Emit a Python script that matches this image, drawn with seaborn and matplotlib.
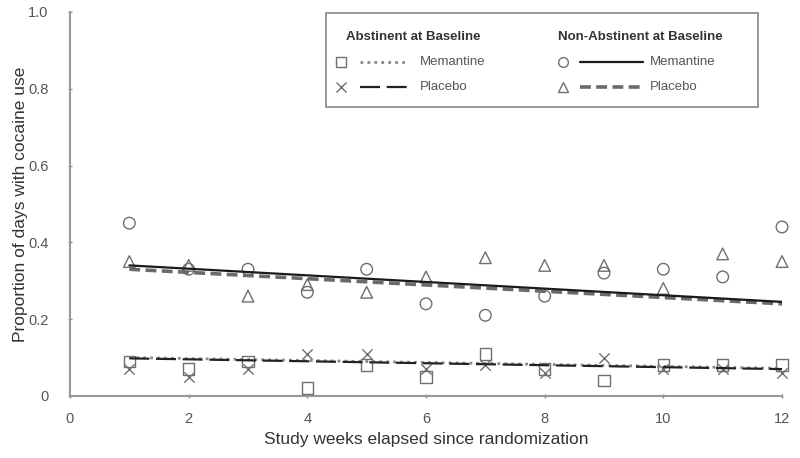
import numpy as np
import pandas as pd
import matplotlib
matplotlib.use("Agg")
import matplotlib.pyplot as plt
from matplotlib.lines import Line2D
from matplotlib.patches import Rectangle
import seaborn as sns

weeks = list(range(1, 13))

# observed proportions per week
abst_mem = [0.09, 0.07, 0.09, 0.02, 0.08, 0.05, 0.11, 0.07, 0.04, 0.08, 0.08, 0.08]
abst_pla = [0.07, 0.05, 0.07, 0.11, 0.11, 0.07, 0.08, 0.06, 0.10, 0.07, 0.07, 0.06]
nonabst_mem = [0.45, 0.33, 0.33, 0.27, 0.33, 0.24, 0.21, 0.26, 0.32, 0.33, 0.31, 0.44]
nonabst_pla = [0.35, 0.34, 0.26, 0.29, 0.27, 0.31, 0.36, 0.34, 0.34, 0.28, 0.37, 0.35]

# fitted trend lines (value at week 1 and week 12)
fit_weeks = [1, 12]
fit_abst_mem = [0.100, 0.072]
fit_abst_pla = [0.098, 0.070]
fit_nonabst_mem = [0.340, 0.245]
fit_nonabst_pla = [0.330, 0.240]

sns.set_style("white")
plt.rcParams['font.family'] = ['Liberation Sans', 'DejaVu Sans']

fig = plt.figure(figsize=(8, 4.58), dpi=100)
ax = fig.add_axes([0.0875, 0.1354, 0.89, 0.8386])

mk_edge = "#6f6f6f"
series = [
    (abst_mem, "s", True),
    (abst_pla, "x", False),
    (nonabst_mem, "o", True),
    (nonabst_pla, "^", True),
]
for vals, m, filled in series:
    df = pd.DataFrame({"week": weeks, "prop": vals})
    if filled:
        sns.scatterplot(data=df, x="week", y="prop", marker=m, s=70, clip_on=False,
                        facecolor="none", edgecolor=mk_edge, linewidth=1.0, ax=ax, zorder=3)
    else:
        sns.scatterplot(data=df, x="week", y="prop", marker=m, s=55, clip_on=False,
                        color=mk_edge, linewidth=1.0, ax=ax, zorder=3)

line_styles = [
    (fit_nonabst_pla, "#6a6a6a", (0, (3, 1.5)), 2.6),
    (fit_nonabst_mem, "#1a1a1a", "-", 1.6),
    (fit_abst_mem, "#8a8a8a", (0, (1, 1.5)), 2.0),
    (fit_abst_pla, "#222222", (0, (9, 3)), 1.6),
]
for vals, c, ls, lw in line_styles:
    sns.lineplot(x=fit_weeks, y=vals, color=c, linestyle=ls, linewidth=lw, ax=ax, zorder=4)

ax.set_xlim(0, 12)
ax.set_ylim(0, 1.0)
ax.set_xticks(range(0, 13, 2))
ax.set_yticks(np.arange(0, 1.01, 0.2))
ax.set_yticklabels(["0", "0.2", "0.4", "0.6", "0.8", "1.0"])
ax.tick_params(axis="both", labelsize=10.5, labelcolor="#555555", color="#888888",
               bottom=True, left=True, length=3, width=1, direction="inout")
ax.tick_params(axis="y", pad=14)
ax.tick_params(axis="x", pad=10)
ax.set_xlabel("Study weeks elapsed since randomization", fontsize=12.5, color="#333333", labelpad=4)
ax.set_ylabel("Proportion of days with cocaine use", fontsize=12.5, color="#333333", labelpad=0)
for s in ["top", "right"]:
    ax.spines[s].set_visible(False)
for s in ["left", "bottom"]:
    ax.spines[s].set_color("#999999")
    ax.spines[s].set_linewidth(1.5)

# legend box
tr = ax.transAxes
ax.add_patch(Rectangle((0.360, 0.753), 0.606, 0.244, transform=tr, fill=False,
                       edgecolor="#888888", linewidth=1.2, zorder=5, clip_on=False))
ax.text(0.388, 0.935, "Abstinent at Baseline", transform=tr, fontsize=9.5,
        fontweight="bold", color="#333333", va="center")
ax.text(0.685, 0.935, "Non-Abstinent at Baseline", transform=tr, fontsize=9.5,
        fontweight="bold", color="#333333", va="center")

entries = [
    (0.381, 0.870, "s", (0.407, 0.473), "#8a8a8a", (0, (1, 1.5)), 2.0, "Memantine", 0.492),
    (0.381, 0.805, "x", (0.407, 0.473), "#222222", (0, (9, 3)), 1.6, "Placebo", 0.492),
    (0.692, 0.870, "o", (0.716, 0.805), "#1a1a1a", "-", 1.6, "Memantine", 0.815),
    (0.692, 0.805, "^", (0.716, 0.805), "#6a6a6a", (0, (3, 1.5)), 2.6, "Placebo", 0.815),
]
for mx, my, m, (x0, x1), c, ls, lw, lab, tx in entries:
    if m == "x":
        ax.add_line(Line2D([mx], [my], marker=m, color=mk_edge, markersize=7,
                           transform=tr, clip_on=False))
    else:
        ax.add_line(Line2D([mx], [my], marker=m, markerfacecolor="none",
                           markeredgecolor=mk_edge, markersize=7, transform=tr, clip_on=False))
    ax.add_line(Line2D([x0, x1], [my, my], color=c, linestyle=ls, linewidth=lw,
                       transform=tr, clip_on=False))
    ax.text(tx, my, lab, transform=tr, fontsize=9.5, color="#555555", va="center")

fig.savefig("out.png", dpi=100)
